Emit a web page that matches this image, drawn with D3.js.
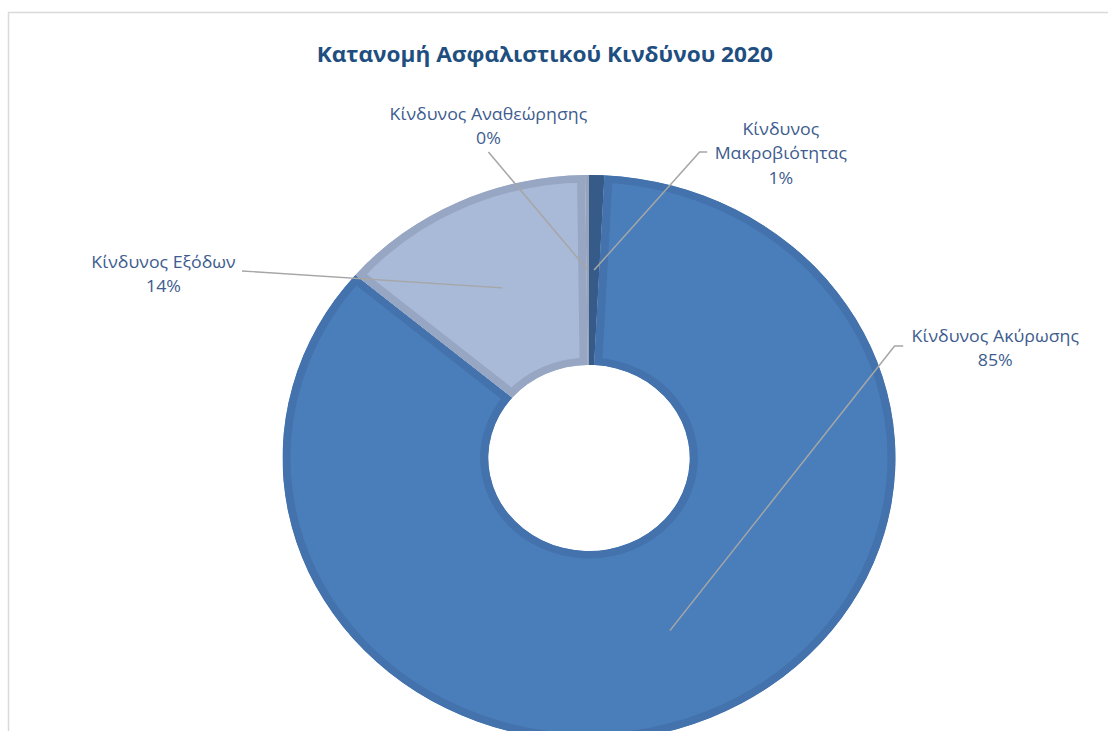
<!DOCTYPE html>
<html>
<head>
<meta charset="utf-8">
<script src="https://cdn.jsdelivr.net/npm/d3@7"></script>
<style>
  html, body { margin: 0; padding: 0; background: #ffffff; }
  svg { display: block; }
  text { font-family: "Open Sans", "Noto Sans", sans-serif; }
</style>
</head>
<body>
<svg id="chart" width="1108" height="731"></svg>
<script>
// Risk categories, in drawing order (clockwise from 12 o'clock)
const categories = ["Κίνδυνος Μακροβιότητας", "Κίνδυνος Ακύρωσης", "Κίνδυνος Εξόδων", "Κίνδυνος Αναθεώρησης"];
const shares = [0.8, 85.4, 13.6, 0.2];
const labelLines = [["Κίνδυνος", "Μακροβιότητας"], ["Κίνδυνος Ακύρωσης"], ["Κίνδυνος Εξόδων"], ["Κίνδυνος Αναθεώρησης"]];
const fills = ["#3a5f8f", "#4a7ebb", "#a9b9d8", "#a3adc3"];
const edges = ["#375b89", "#4372ac", "#97a6c2", "#98a3bb"];
const title = "Κατανομή Ασφαλιστικού Κινδύνου 2020";

// Layout (chart units, horizontal stretch applied afterwards)
const W = 1108, H = 731;
const sx = 1.083;
const cx = 589 / sx, cy = 458;
const rOuter = 283, rInner = 93;
const edgeW = 7.5;

// Label anchors and leader elbows for each slice
const labelLayout = [
  { x: 721, y: 135, lead: [[653, 152], [646, 152]] },
  { x: 919, y: 342, lead: [[834, 346], [826, 346]] },
  { x: 151, y: 268, lead: [[223.5, 271]] },
  { x: 451, y: 120, lead: [[451, 152]] }
];

const svg = d3.select("#chart");

// chart area frame
svg.append("path")
  .attr("d", `M8.5,${H + 2} V12.5 H${W + 2}`)
  .attr("fill", "none")
  .attr("stroke", "#d9d9d9")
  .attr("stroke-width", 1.5);

const root = svg.append("g").attr("transform", `scale(${sx},1)`);

root.append("text")
  .attr("x", 503)
  .attr("y", 62)
  .attr("text-anchor", "middle")
  .attr("font-size", 20.9)
  .attr("font-weight", "bold")
  .attr("fill", "#1f4e80")
  .text(title);

const total = d3.sum(shares);
const pie = d3.pie().sort(null).value(d => d)(shares);
const arc = d3.arc().innerRadius(rInner).outerRadius(rOuter);
const mid = d3.arc().innerRadius((rInner + rOuter) / 2).outerRadius((rInner + rOuter) / 2);

const ring = root.append("g").attr("transform", `translate(${cx},${cy})`);
const defs = svg.append("defs");

pie.forEach((p, i) => {
  const id = "slice-clip-" + i;
  defs.append("clipPath").attr("id", id).append("path").attr("d", arc(p));
  ring.append("path")
    .attr("d", arc(p))
    .attr("fill", fills[i])
    .attr("stroke", edges[i])
    .attr("stroke-width", edgeW * 2)
    .attr("clip-path", `url(#${id})`);
});

// leader lines and labels
const lineH = 24.5;
pie.forEach((p, i) => {
  const L = labelLayout[i];
  const c = mid.centroid(p);
  const pts = L.lead.concat([[cx + c[0], cy + c[1]]]);
  root.append("path")
    .attr("d", d3.line()(pts))
    .attr("fill", "none")
    .attr("stroke", "#a6a6a6")
    .attr("stroke-width", 1.4);

  const lines = labelLines[i].concat([Math.round(shares[i] / total * 100) + "%"]);
  const t = root.append("text")
    .attr("text-anchor", "middle")
    .attr("font-size", 16.4)
    .attr("fill", "#3e5c8e");
  lines.forEach((s, k) => {
    t.append("tspan").attr("x", L.x).attr("y", L.y + k * lineH).text(s);
  });
});
</script>
</body>
</html>
